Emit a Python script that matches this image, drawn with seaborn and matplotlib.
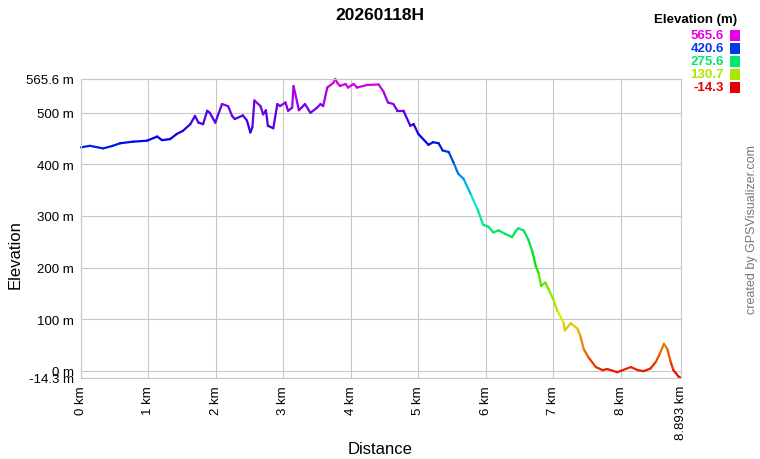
import numpy as np
import pandas as pd
import seaborn as sns
import matplotlib.pyplot as plt
from matplotlib.colors import ListedColormap, hsv_to_rgb
from matplotlib.patches import Rectangle

title = '20260118H'
dist_km = [0, 0.13, 0.33, 0.47, 0.58, 0.77, 0.98, 1.13, 1.20, 1.32, 1.42, 1.51, 1.62, 1.69,
           1.74, 1.81, 1.87, 1.91, 1.99, 2.09, 2.18, 2.24, 2.28, 2.40, 2.46, 2.51, 2.54, 2.57,
           2.66, 2.70, 2.74, 2.77, 2.85, 2.91, 2.95, 3.03, 3.07, 3.13, 3.15, 3.20, 3.23, 3.32,
           3.40, 3.50, 3.55, 3.59, 3.65, 3.74, 3.77, 3.80, 3.84, 3.92, 3.96, 4.04, 4.09, 4.24,
           4.41, 4.48, 4.55, 4.63, 4.69, 4.78, 4.88, 4.93, 5.00, 5.15, 5.22, 5.30, 5.36, 5.45,
           5.52, 5.59, 5.67, 5.77, 5.88, 5.96, 6.04, 6.11, 6.19, 6.29, 6.39, 6.44, 6.48, 6.56,
           6.63, 6.69, 6.74, 6.78, 6.82, 6.88, 6.93, 7.00, 7.06, 7.15, 7.17, 7.26, 7.36, 7.40,
           7.45, 7.52, 7.63, 7.73, 7.80, 7.95, 8.03, 8.15, 8.25, 8.34, 8.44, 8.52, 8.58, 8.64,
           8.69, 8.74, 8.78, 8.86, 8.893]
elev_m = [433, 436, 431, 436, 441, 444, 446, 454, 447, 449, 459, 465, 478, 494,
          481, 478, 504, 500, 481, 517, 513, 494, 488, 495, 485, 462, 472, 524,
          513, 497, 505, 475, 470, 517, 513, 520, 504, 510, 552, 523, 505, 517,
          500, 510, 517, 513, 549, 558, 565.6, 558, 552, 556, 549, 556, 549, 554,
          555, 542, 520, 517, 504, 504, 475, 478, 459, 438, 443, 441, 427, 424,
          404, 382, 372, 344, 312, 283, 279, 268, 272, 265, 259, 270, 276, 272,
          254, 231, 203, 190, 164, 171, 158, 138, 116, 94, 78, 92, 81, 68,
          42, 26, 7, 1, 3, -3, 1, 7, 1, -1, 4, 17, 33, 52,
          42, 17, 1, -12, -14.3]
y_min, y_max = -14.3, 565.6
total_km = 8.893
legend_vals = ['565.6', '420.6', '275.6', '130.7', '-14.3']

# colour scale: red -> magenta by elevation
hues = np.linspace(0, 300 / 360, 256)
cmap = ListedColormap(hsv_to_rgb(np.column_stack([hues, np.ones(256), np.full(256, 0.9)])))

rows = []
for i in range(len(dist_km) - 1):
    c = (elev_m[i] + elev_m[i + 1]) / 2
    rows.append((dist_km[i], elev_m[i], i, c))
    rows.append((dist_km[i + 1], elev_m[i + 1], i, c))
df = pd.DataFrame(rows, columns=['dist', 'elev', 'seg', 'c'])

sns.set_theme(style='white')
plt.rcParams['font.family'] = ['Liberation Sans', 'DejaVu Sans']
plt.rcParams['text.color'] = 'black'

fig = plt.figure(figsize=(7.6, 4.6), dpi=100)
ax = fig.add_axes([81 / 760, 1 - 379 / 460, 600 / 760, 299 / 460])
sns.lineplot(data=df, x='dist', y='elev', hue='c', units='seg', estimator=None,
             palette=cmap, hue_norm=(y_min, y_max), legend=False, linewidth=1.6,
             sort=False, ax=ax, solid_capstyle='round', clip_on=False)

ax.set_xlim(0, total_km)
ax.set_ylim(y_min, y_max)
xt = list(range(9)) + [total_km]
ax.set_xticks(xt)
ax.set_xticklabels([f'{v} km' for v in range(9)] + ['8.893 km'], rotation=90, fontsize=9.5)
yt = [y_min, 0, 100, 200, 300, 400, 500, y_max]
ax.set_yticks(yt)
ax.set_yticklabels(['-14.3 m', '0 m', '100 m', '200 m', '300 m', '400 m', '500 m', '565.6 m'],
                   fontsize=9.5)
ax.tick_params(axis='both', length=3, width=0.8, color='#c8c8c8', pad=2, labelcolor='black')
ax.grid(True, color='#c8c8c8', linewidth=0.8)
ax.set_axisbelow(True)
for s in ax.spines.values():
    s.set_color('#c8c8c8')
    s.set_linewidth(0.8)
ax.set_xlabel('')
ax.set_ylabel('')

fig.text(0.5, 1 - 15 / 460, title, ha='center', va='center', fontsize=12.5, fontweight='bold')
fig.text(15 / 760, 1 - 255 / 460, 'Elevation', rotation=90, ha='center', va='center', fontsize=12)
fig.text(380 / 760, 1 - 450 / 460, 'Distance', ha='center', va='center', fontsize=12)
fig.text(752 / 760, 1 - 230 / 460, 'created by GPSVisualizer.com', rotation=90,
         ha='center', va='center', fontsize=9, color='#777777')

# legend
fig.text(737 / 760, 1 - 20 / 460, 'Elevation (m)', ha='right', va='center', fontsize=9.5,
         fontweight='bold')
row_y = [36, 49, 62, 75, 88]
for v, yy in zip(legend_vals, row_y):
    col = cmap((float(v) - y_min) / (y_max - y_min))
    fig.text(724 / 760, 1 - yy / 460, v, ha='right', va='center', fontsize=9.5,
             fontweight='bold', color=col)
    fig.add_artist(Rectangle((730 / 760, 1 - (yy + 5.5) / 460), 10 / 760, 11 / 460,
                             transform=fig.transFigure, color=col, lw=0))

fig.savefig('out.png', dpi=100)
